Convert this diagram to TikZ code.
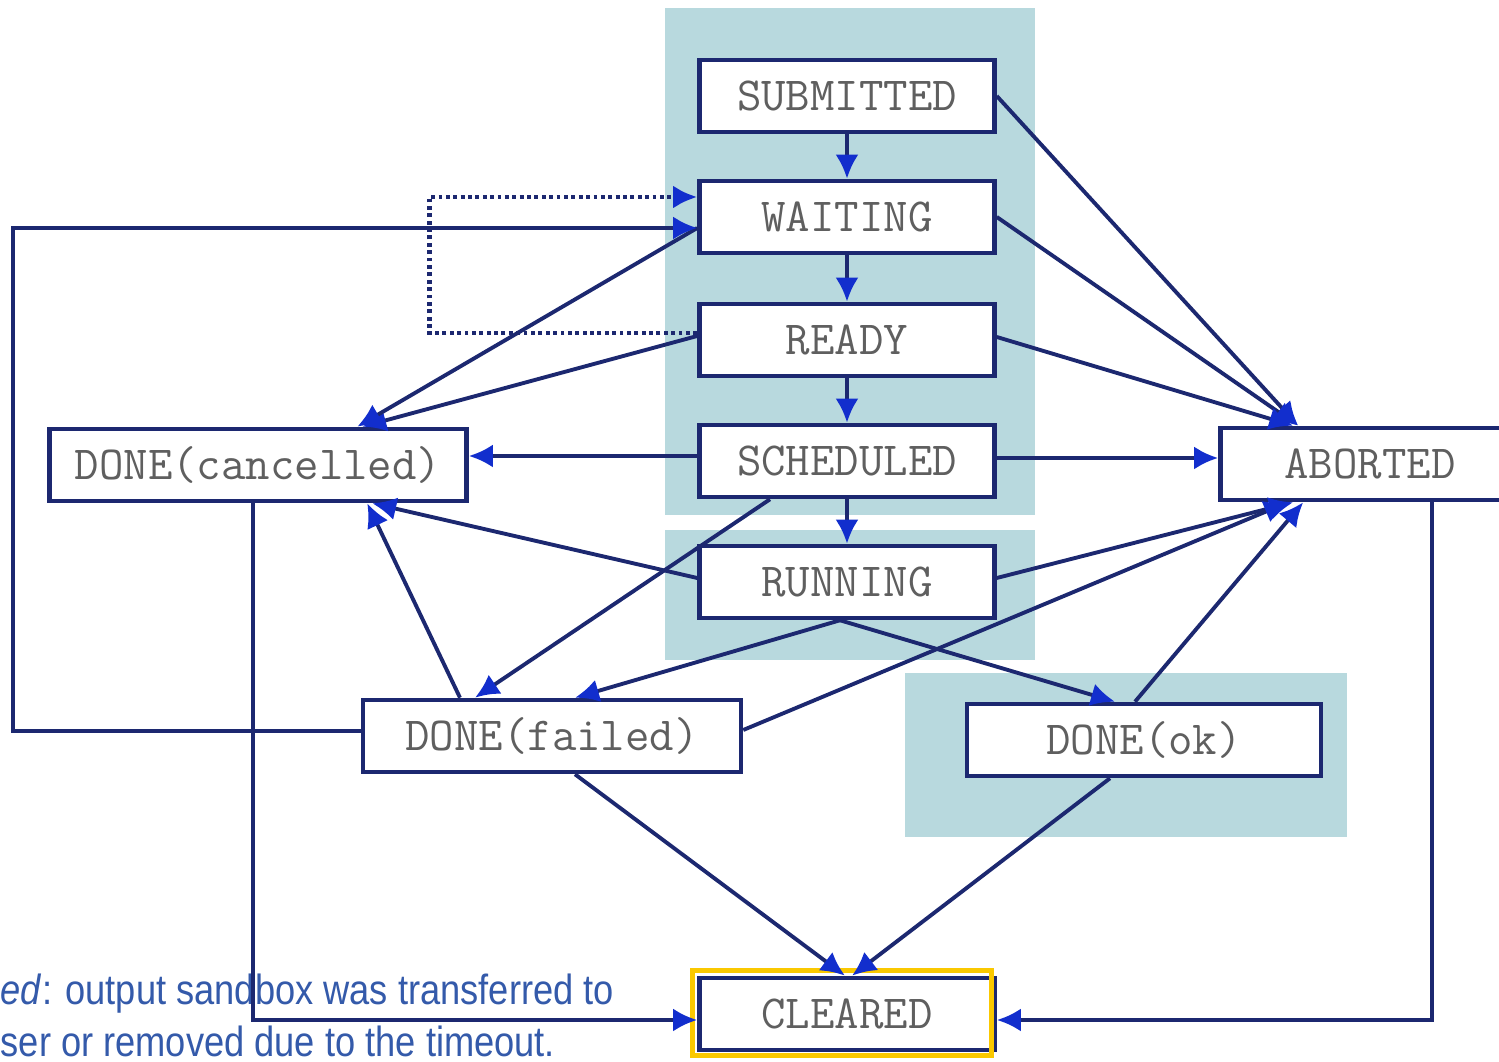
\documentclass[tikz,border=0pt]{standalone}
\usepackage{fontspec}
\setsansfont{Liberation Sans}
\usetikzlibrary{arrows.meta}
\definecolor{panel}{RGB}{184,217,222}
\definecolor{edge}{RGB}{28,40,112}
\definecolor{tipblue}{RGB}{18,46,205}
\definecolor{labelgray}{RGB}{95,95,95}
\definecolor{notetext}{RGB}{52,90,170}
\definecolor{hilite}{RGB}{250,200,0}
\tikzset{
  statebox/.style={draw=edge, line width=1.3pt, fill=white, minimum width=29.5mm, minimum height=7.2mm, inner sep=0pt, font=\ttfamily\fontsize{13.5}{15}\selectfont, text=labelgray},
  flow/.style={draw=edge, line width=1.1pt, -{Latex[length=2.4mm,width=2.3mm,color=tipblue]}},
  note/.style={anchor=base west, inner sep=0pt, font=\sffamily\fontsize{12}{14}\selectfont, text=notetext},
}

\begin{document}
\begin{tikzpicture}[x=0.1mm,y=-0.1mm]
\useasboundingbox (0,0) rectangle (1499,1062);
\fill[panel] (665,8) rectangle (1035,515);
\fill[panel] (665,530) rectangle (1035,660);
\fill[panel] (905,673) rectangle (1347,837);

\node[note] (note1) at (0,1005) {\scalebox{0.86}[1]{\textit{ed}: output sandbox was transferred to}};
\node[note] (note2) at (0,1057) {\scalebox{0.86}[1]{ser or removed due to the timeout.}};

\node[statebox] (sub) at (847,96) {SUBMITTED};
\node[statebox] (wait) at (847,217) {WAITING};
\node[statebox] (ready) at (847,340) {READY};
\node[statebox] (sched) at (847,461) {SCHEDULED};
\node[statebox] (run) at (847,582) {RUNNING};
\node[statebox, minimum width=41.7mm] (cancel) at (258,465) {DONE(cancelled)};
\node[statebox, minimum width=29.9mm] (abo) at (1370,464) {ABORTED};
\node[statebox, minimum width=37.8mm] (failed) at (552,736) {DONE(failed)};
\node[statebox, minimum width=35.4mm] (ok) at (1144,740) {DONE(ok)};
\node[statebox] (clr) at (847,1014) {CLEARED};
\draw[hilite, line width=1.5pt] ([shift={(-0.5mm,0.5mm)}]clr.north west) rectangle ([shift={(-0.5mm,-0.3mm)}]clr.south east);

\draw[flow] (sub) -- (wait);
\draw[flow] (wait) -- (ready);
\draw[flow] (ready) -- (sched);
\draw[flow] (sched) -- (run);

\draw[flow] (sub.east) -- ([xshift=8mm]abo.north west);
\draw[flow] (wait.east) -- ([xshift=8mm]abo.north west);
\draw[flow] ([yshift=0.3mm]ready.east) -- ([xshift=7.5mm]abo.north west);
\draw[flow] ([yshift=0.3mm]sched.east) -- ([yshift=0.3mm]sched.east -| abo.west);
\draw[flow] ([yshift=0.4mm]run.east) -- ([xshift=7.5mm]abo.south west);
\draw[flow] ([yshift=0.6mm]failed.east) -- ([xshift=7mm]abo.south west);
\draw[flow] ([xshift=-0.9mm]ok.north) -- ([xshift=8.5mm]abo.south west);

\draw[flow] ([yshift=0.5mm]sched.west) -- ([yshift=0.5mm]sched.west -| cancel.east);
\draw[flow] ([yshift=0.4mm]ready.west) -- ([xshift=31.5mm]cancel.north west);
\draw[flow] ([yshift=-1.1mm]wait.west) -- ([xshift=31mm]cancel.north west);
\draw[flow, densely dotted, line width=1.3pt] ([yshift=0.7mm]ready.west) -- ++(-268,0) |- ([yshift=2mm]wait.west);
\draw[flow] ([yshift=0.5mm]failed.west) -- ++(-348,0) |- ([yshift=-1.1mm]wait.west);

\draw[flow] ([xshift=-7.7mm]sched.south) -- ([xshift=-7.7mm]failed.north);
\draw[flow] ([yshift=0.4mm]run.west) -- ([xshift=32.5mm]cancel.south west);
\draw[flow] ([xshift=-9.2mm]failed.north) -- ([xshift=32mm]cancel.south west);
\draw[flow] ([xshift=-0.7mm]run.south) -- ([xshift=2.3mm]failed.north);
\draw[flow] ([xshift=-0.7mm]run.south) -- ([xshift=-2.9mm]ok.north);

\draw[flow] ([xshift=2.3mm]failed.south) -- ([xshift=-0.2mm]clr.north);
\draw[flow] ([xshift=-3.4mm]ok.south) -- ([xshift=0.5mm]clr.north);
\draw[flow] ([xshift=-0.5mm]cancel.south) |- ([yshift=-0.6mm]clr.west);
\draw[flow] ([xshift=6.2mm]abo.south) |- ([yshift=-0.6mm]clr.east);
\end{tikzpicture}
\end{document}
